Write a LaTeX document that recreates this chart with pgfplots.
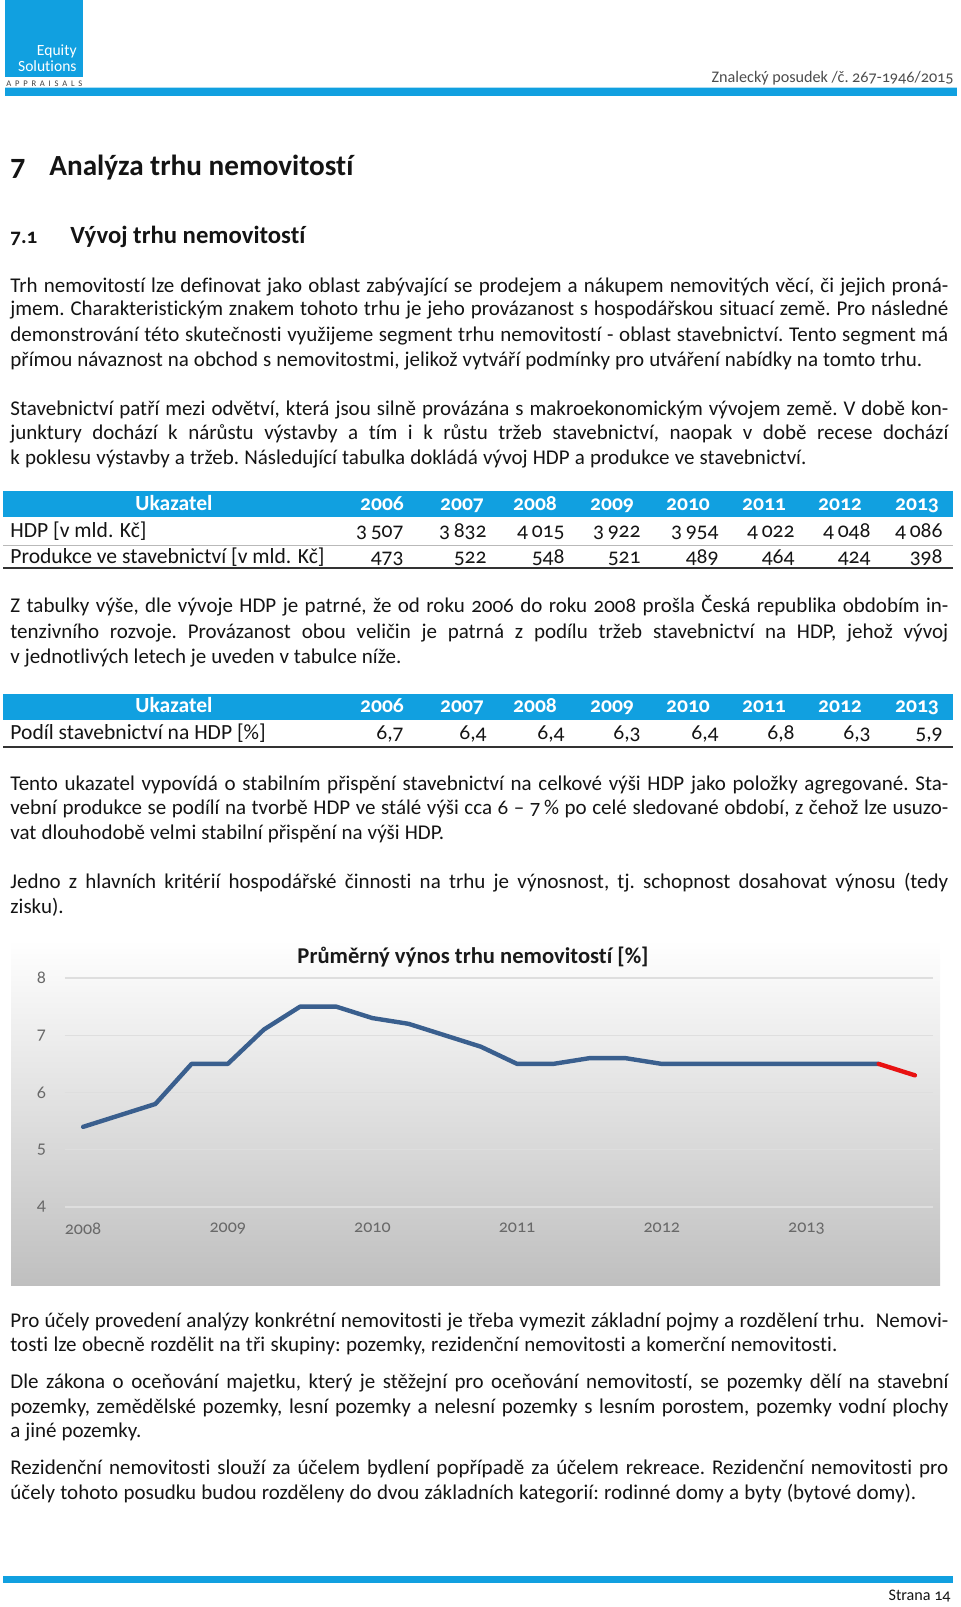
\documentclass[border=0pt]{standalone}
\usepackage{pgfplots}
\pgfplotsset{compat=1.18}
\usepackage{graphicx}
\usepackage{fontspec}
\setmainfont{Carlito}[Numbers=OldStyle, Ligatures={NoCommon}]
\definecolor{esblue}{RGB}{17,160,224}
\definecolor{lineblue}{RGB}{58,95,142}
\definecolor{linered}{RGB}{232,18,18}
\definecolor{ticktxt}{RGB}{105,105,105}
\definecolor{gridc}{RGB}{222,222,222}
\definecolor{bodytxt}{RGB}{20,20,20}
\newcommand{\bodyfont}{\fontsize{10.5}{13}\selectfont\frenchspacing}
\newcommand{\tabfont}{\fontsize{10.8}{13}\selectfont}
\newcommand{\PL}[3]{\node[anchor=base west] at (10,#1) {\makebox[#2][s]{#3}};}
\begin{document}
\begin{tikzpicture}
\path[use as bounding box] (0,0) rectangle (480pt,-803.5pt);
\begin{scope}[x=0.5pt,y=-0.5pt, every node/.style={inner sep=0pt, font=\bodyfont, text=bodytxt}]
% ---------- header ----------
\fill[esblue] (5,0) rectangle (83,77);
\node[anchor=base east, text=white, font=\fontsize{7.8}{8}\selectfont] at (77,55) {Equity};
\node[anchor=base east, text=white, font=\fontsize{7.8}{8}\selectfont] at (77,71) {Solutions};
\node[anchor=base west, text=black!75, font=\fontsize{4.3}{5}\selectfont] at (6,86) {\makebox[38pt][s]{A P P R A I S A L S}};
\fill[esblue!35] (5,87) rectangle (957,88);
\fill[esblue] (5,88) rectangle (957,96);
\node[anchor=base east, text=black!70] at (954,82) {\resizebox{121pt}{!}{Znalecký posudek /č. 267-1946/2015}};
% ---------- headings ----------
\node[anchor=base west, font=\bfseries\fontsize{15}{18}\selectfont] at (10,175) {7};
\node[anchor=base west, font=\bfseries] at (49,175) {\resizebox{152pt}{!}{Analýza trhu nemovitostí}};
\node[anchor=base west, font=\bfseries] at (10,243) {\resizebox{13.5pt}{!}{7.1}};
\node[anchor=base west, font=\bfseries] at (70,243) {\resizebox{117.5pt}{!}{Vývoj trhu nemovitostí}};
% ---------- paragraph 1 ----------
\PL{292}{469pt}{Trh nemovitostí lze definovat jako oblast zabývající se prodejem a nákupem nemovitých věcí, či jejich proná-}
\PL{315}{469pt}{jmem. Charakteristickým znakem tohoto trhu je jeho provázanost s hospodářskou situací země. Pro následné}
\PL{341}{469pt}{demonstrování této skutečnosti využijeme segment trhu nemovitostí - oblast stavebnictví. Tento segment má}
\PL{366}{456pt}{přímou návaznost na obchod s nemovitostmi, jelikož vytváří podmínky pro utváření nabídky na tomto trhu.}
% ---------- paragraph 2 ----------
\PL{415}{469pt}{Stavebnictví patří mezi odvětví, která jsou silně provázána s makroekonomickým vývojem země. V době kon-}
\PL{439}{469pt}{junktury dochází k nárůstu výstavby a tím i k růstu tržeb stavebnictví, naopak v době recese dochází}
\PL{464}{398pt}{k poklesu výstavby a tržeb. Následující tabulka dokládá vývoj HDP a produkce ve stavebnictví.}
% ---------- table 1 ----------
\fill[esblue] (3,491) rectangle (953,517);
\node[anchor=base, text=white, font=\bfseries\tabfont] at (174,510) {Ukazatel};
\foreach \x/\y in {382/2006,462/2007,535/2008,612/2009,688/2010,764/2011,840/2012,917/2013}
  {\node[anchor=base, text=white, font=\bfseries\tabfont] at (\x,510) {\y};}
\node[anchor=base west, font=\tabfont] at (10,537) {HDP [v mld. Kč]};
\foreach \x/\v in {404/{3\,507},487/{3\,832},565/{4\,015},641/{3\,922},719/{3\,954},795/{4\,022},871/{4\,048},943/{4\,086}}
  {\node[anchor=base east, font=\tabfont] at (\x,537) {\v};}
\draw[gray!55, line width=0.5pt] (3,545) -- (953,545);
\node[anchor=base west, font=\tabfont] at (10,563) {Produkce ve stavebnictví [v mld. Kč]};
\foreach \x/\v in {404/473,487/522,565/548,641/521,719/489,795/464,871/424,943/398}
  {\node[anchor=base east, font=\tabfont] at (\x,563) {\v};}
\draw[black!80, line width=0.9pt] (3,568) -- (953,568);
% ---------- paragraph 3 ----------
\PL{612}{469pt}{Z tabulky výše, dle vývoje HDP je patrné, že od roku 2006 do roku 2008 prošla Česká republika obdobím in-}
\PL{638}{469pt}{tenzivního rozvoje. Provázanost obou veličin je patrná z podílu tržeb stavebnictví na HDP, jehož vývoj}
\PL{663}{195.5pt}{v jednotlivých letech je uveden v tabulce níže.}
% ---------- table 2 ----------
\fill[esblue] (3,694) rectangle (953,720);
\node[anchor=base, text=white, font=\bfseries\tabfont] at (174,712) {Ukazatel};
\foreach \x/\y in {382/2006,462/2007,535/2008,612/2009,688/2010,764/2011,840/2012,917/2013}
  {\node[anchor=base, text=white, font=\bfseries\tabfont] at (\x,712) {\y};}
\node[anchor=base west, font=\tabfont] at (10,739) {Podíl stavebnictví na HDP [\%]};
\foreach \x/\v in {404/{6,7},487/{6,4},565/{6,4},641/{6,3},719/{6,4},795/{6,8},871/{6,3},943/{5,9}}
  {\node[anchor=base east, font=\tabfont] at (\x,739) {\v};}
\draw[black!80, line width=0.9pt] (3,747) -- (953,747);
% ---------- paragraph 4 ----------
\PL{790}{469pt}{Tento ukazatel vypovídá o stabilním přispění stavebnictví na celkové výši HDP jako položky agregované. Sta-}
\PL{814}{469pt}{vební produkce se podílí na tvorbě HDP ve stálé výši cca 6 – 7\,\% po celé sledované období, z čehož lze usuzo-}
\PL{839}{217pt}{vat dlouhodobě velmi stabilní přispění na výši HDP.}
% ---------- paragraph 5 ----------
\PL{888}{469pt}{Jedno z hlavních kritérií hospodářské činnosti na trhu je výnosnost, tj. schopnost dosahovat výnosu (tedy}
\node[anchor=base west] at (10,913) {zisku).};
% ---------- chart panel ----------
\shade[top color=white, bottom color=gray!50] (11,940) rectangle (940,1285);
\node[anchor=base, font=\bfseries, text=black!90] at (473,963) {\resizebox{175.5pt}{!}{Průměrný výnos trhu nemovitostí [\%]}};
% ---------- paragraph 6 ----------
\PL{1327}{469pt}{Pro účely provedení analýzy konkrétní nemovitosti je třeba vymezit základní pojmy a rozdělení trhu.\ \ Nemovi-}
\PL{1351}{413.5pt}{tosti lze obecně rozdělit na tři skupiny: pozemky, rezidenční nemovitosti a komerční nemovitosti.}
% ---------- paragraph 7 ----------
\PL{1388}{469pt}{Dle zákona o oceňování majetku, který je stěžejní pro oceňování nemovitostí, se pozemky dělí na stavební}
\PL{1413}{469pt}{pozemky, zemědělské pozemky, lesní pozemky a nelesní pozemky s lesním porostem, pozemky vodní plochy}
\PL{1437}{65.5pt}{a jiné pozemky.}
% ---------- paragraph 8 ----------
\PL{1474}{469pt}{Rezidenční nemovitosti slouží za účelem bydlení popřípadě za účelem rekreace. Rezidenční nemovitosti pro}
\PL{1499}{453pt}{účely tohoto posudku budou rozděleny do dvou základních kategorií: rodinné domy a byty (bytové domy).}
% ---------- footer ----------
\fill[esblue] (3,1576) rectangle (953,1583);
\node[anchor=base east] at (951,1600) {\resizebox{31pt}{!}{Strana 14}};
\end{scope}
\begin{axis}[
  at={(32.5pt,-603.5pt)}, anchor=south west,
  scale only axis, width=434pt, height=114.5pt,
  xmin=-0.5, xmax=23.5, ymin=4, ymax=8,
  ytick={4,5,6,7,8},
  xtick={0,4,8,12,16,20},
  xticklabels={2008,2009,2010,2011,2012,2013},
  ymajorgrids, grid style={gridc, line width=0.7pt},
  axis line style={draw=none},
  major tick length=0pt,
  tick label style={font=\fontsize{9}{10}\selectfont, text=ticktxt},
  /pgf/number format/assume math mode=true,
  yticklabel style={xshift=-6pt},
  xticklabel style={yshift=-4.5pt},
  clip=false,
]
\addplot[lineblue, line width=2.2pt, line join=round, line cap=round] coordinates {
(0,5.4)(1,5.6)(2,5.8)(3,6.5)(4,6.5)(5,7.1)(6,7.5)(7,7.5)(8,7.3)(9,7.2)(10,7.0)(11,6.8)
(12,6.5)(13,6.5)(14,6.6)(15,6.6)(16,6.5)(17,6.5)(18,6.5)(19,6.5)(20,6.5)(21,6.5)(22,6.5)};
\addplot[linered, line width=2.2pt, line cap=round] coordinates {(22,6.5)(23,6.3)};
\end{axis}
\end{tikzpicture}
\end{document}
